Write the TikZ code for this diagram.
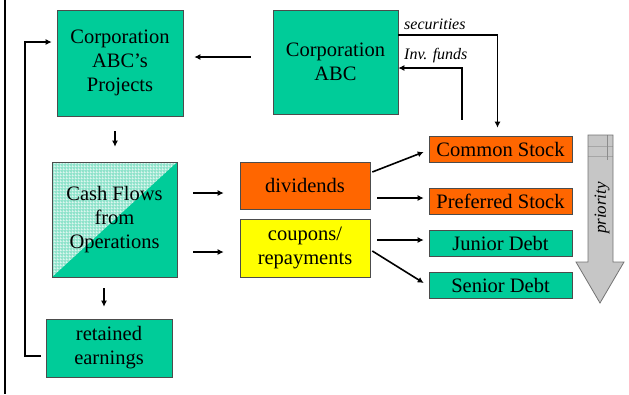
\documentclass[tikz,border=0pt]{standalone}
\usepackage{fontspec}
\setmainfont{Liberation Serif}
\usetikzlibrary{arrows.meta,patterns.meta,calc}
\definecolor{teal}{HTML}{00CC99}
\definecolor{lteal}{HTML}{8FE3CB}
\definecolor{orng}{HTML}{FF6600}
\definecolor{yell}{HTML}{FFFF00}
\definecolor{gry}{HTML}{C6C6C6}
\tikzdeclarepattern{
  name=finegrid,
  type=uncolored,
  bounding box={(0pt,0pt) and (3pt,3pt)},
  tile size={(3pt,3pt)},
  code={
    \pgfpathrectangle{\pgfpointorigin}{\pgfpoint{3pt}{0.7pt}}
    \pgfpathrectangle{\pgfpointorigin}{\pgfpoint{0.7pt}{3pt}}
    \pgfusepath{fill}
  }
}
\tikzset{
  box/.style={draw=black!70, line width=0.6pt, inner sep=0pt, align=center,
    font=\fontsize{20.5}{24}\selectfont},
  bigbox/.style={box, fill=teal},
  sec/.style={box, minimum width=143pt, minimum height=26pt},
  arr/.style={line width=1.6pt, -{Latex[length=6pt,width=6pt]}},
  lbl/.style={font=\fontsize{16}{18}\selectfont\itshape, inner sep=0pt}
}
\begin{document}
\begin{tikzpicture}[x=1pt,y=-1pt]
\useasboundingbox (0,0) rectangle (629,394);
% left border line
\draw[line width=2pt] (5,0) -- (5,394);

% boxes
\node[bigbox, minimum width=126pt, minimum height=106pt] (Proj) at (120,63) {Corporation\\ABC’s\\Projects};
\node[bigbox, minimum width=125pt, minimum height=104pt] (ABC) at (335.5,62) {Corporation\\ABC};

% cash flows box with split fill
\fill[teal] (52,162) rectangle (177,277);
\fill[lteal] (52,162) -- (177,162) -- (52,277) -- cycle;
\fill[pattern=finegrid, pattern color=white!75!lteal] (52,162) -- (177,162) -- (52,277) -- cycle;
\node[box, minimum width=125pt, minimum height=115pt] (Cash) at (114.5,219.5) {Cash Flows\\from\\Operations};

\node[bigbox, minimum width=126pt, minimum height=58pt] (Ret) at (109,348) {retained\\earnings};

\node[box, fill=orng, minimum width=130pt, minimum height=47pt] (Div) at (305,185.5) {dividends};
\node[box, fill=yell, minimum width=130pt, minimum height=58pt] (Coup) at (305,248) {coupons/\\repayments};

\node[sec, fill=orng] (Com) at (500.5,149) {Common Stock};
\node[sec, fill=orng] (Pref) at (500.5,201) {Preferred Stock};
\node[sec, fill=teal] (Jun) at (500.5,243) {Junior Debt};
\node[sec, fill=teal] (Sen) at (500.5,285) {Senior Debt};

% priority arrow
\fill[gry] (588,135) -- (613,135) -- (613,262) -- (624,262) -- (600,303) -- (576,262) -- (588,262) -- cycle;
\draw[black!35, line width=0.5pt] (588,146) -- (613,146) (588,156) -- (613,156);
\draw[black!45, line width=0.5pt] (607,135) -- (607,160);
\draw[black!55, line width=0.8pt] (588,135) -- (613,135) -- (613,262) -- (624,262) -- (600,303) -- (576,262) -- (588,262) -- cycle;
\node[lbl, rotate=90, font=\fontsize{17}{19}\selectfont\itshape] (Prio) at (602,208) {priority};

% connectors
\draw[arr] ([shift={(-22,-5)}]ABC.west) -- ([shift={(11,-6)}]Proj.east);
\draw[arr] ([shift={(-5,15)}]Proj.south) -- ([shift={(0.5,-15)}]Cash.north);
\draw[arr] ([shift={(-10.5,11)}]Cash.south) -- ([shift={(-5,-12)}]Ret.north);
\draw[arr] ([shift={(-5,8)}]Ret.west) -- ++(-16,0) |- ([shift={(-5,-21)}]Proj.west);

\draw[arr] ([shift={(16,-26.5)}]Cash.east) -- ([shift={(-16,7.5)}]Div.west);
\draw[arr] ([shift={(16,32.5)}]Cash.east) -- ([shift={(-16,4)}]Coup.west);

\draw[arr] ([shift={(2,-13.5)}]Div.east) -- ([shift={(-5,3)}]Com.west);
\draw[arr] ([shift={(7,12.5)}]Div.east) -- ([shift={(-5,-3)}]Pref.west);
\draw[arr] ([shift={(7,-8)}]Coup.east) -- ([shift={(-5,-3)}]Jun.west);
\draw[arr] ([shift={(2,3)}]Coup.east) -- ([shift={(-5,-2)}]Sen.west);

% securities / investment funds
\draw[arr] ([shift={(0,-27)}]ABC.east) -| ([shift={(-3,-8)}]Com.north);
\draw[arr] ([shift={(-38.5,-16)}]Com.north) |- ([shift={(0,6)}]ABC.east);
\node[lbl, anchor=west] (SecL) at (404,24) {securities};
\node[lbl, anchor=west] (InvL) at (404,56) {Inv. funds};
\end{tikzpicture}
\end{document}
